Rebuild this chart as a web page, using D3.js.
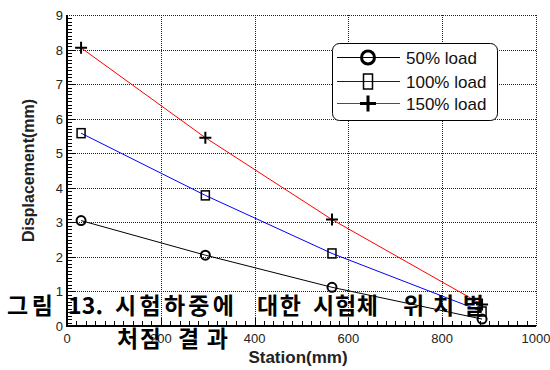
<!DOCTYPE html>
<html lang="ko">
<head>
    <meta charset="UTF-8" />
    <title>Station vs Displacement</title>
    <script src="https://d3js.org/d3.v7.min.js"></script>
    <style>
        body { margin: 0; background: #fff; }
        svg { display: block; font-family: "Liberation Sans", Arial, sans-serif; }
    </style>
</head>
<body>
    <script>
        // data
        var stations = [30, 295, 565, 885];
        var load50 = [3.05, 2.05, 1.12, 0.2];
        var load100 = [5.58, 3.78, 2.1, 0.42];
        var load150 = [8.05, 5.45, 3.08, 0.62];
        var seriesNames = ["50% load", "100% load", "150% load"];
        var xTicks = [0, 200, 400, 600, 800, 1000];
        var yTicks = [0, 1, 2, 3, 4, 5, 6, 7, 8, 9];
        var captionLine1 = ["그림", "13.", "시험하중에", "대한", "시험체", "위치별"];
        var captionLine2 = ["처짐", "결과"];

        var w = 550;
        var h = 370;
        var pLeft = 67, pTop = 15, pRight = 536, pBottom = 326;

        var svg = d3.select("body")
            .append("svg")
            .attr("width", w)
            .attr("height", h);

        var xScale = d3.scaleLinear().domain([0, 1000]).range([pLeft, pRight]);
        var yScale = d3.scaleLinear().domain([0, 9]).range([pBottom, pTop]);

        // dotted grid
        svg.append("g").selectAll("line")
            .data(xTicks.slice(1))
            .enter().append("line")
            .attr("x1", function(d) { return Math.round(xScale(d)) + 0.5; })
            .attr("x2", function(d) { return Math.round(xScale(d)) + 0.5; })
            .attr("y1", pTop).attr("y2", pBottom)
            .attr("stroke", "#222").attr("stroke-width", 1)
            .attr("stroke-dasharray", "1,1");

        svg.append("g").selectAll("line")
            .data(yTicks.slice(1))
            .enter().append("line")
            .attr("x1", pLeft).attr("x2", pRight)
            .attr("y1", function(d) { return Math.round(yScale(d)) + 0.5; })
            .attr("y2", function(d) { return Math.round(yScale(d)) + 0.5; })
            .attr("stroke", "#222").attr("stroke-width", 1)
            .attr("stroke-dasharray", "1,1");

        // minor ticks (inside)
        var yMinor = d3.range(0, 90).map(function(i) { return i / 10; });
        svg.append("g").selectAll("line")
            .data(yMinor)
            .enter().append("line")
            .attr("x1", pLeft)
            .attr("x2", function(d, i) { return pLeft + (i % 10 === 0 ? 8 : 5); })
            .attr("y1", function(d) { return Math.round(yScale(d)) + 0.5; })
            .attr("y2", function(d) { return Math.round(yScale(d)) + 0.5; })
            .attr("stroke", "#000");

        var xMinor = d3.range(0, 50).map(function(i) { return i * 20; });
        svg.append("g").selectAll("line")
            .data(xMinor)
            .enter().append("line")
            .attr("x1", function(d) { return Math.round(xScale(d)) + 0.5; })
            .attr("x2", function(d) { return Math.round(xScale(d)) + 0.5; })
            .attr("y1", pBottom)
            .attr("y2", function(d, i) { return pBottom - (i % 10 === 0 ? 8 : 5); })
            .attr("stroke", "#000");

        // axis lines
        svg.append("line").attr("x1", pLeft).attr("x2", pLeft).attr("y1", pTop).attr("y2", pBottom + 1)
            .attr("stroke", "#000").attr("stroke-width", 2);
        svg.append("line").attr("x1", pLeft - 1).attr("x2", pRight).attr("y1", pBottom).attr("y2", pBottom)
            .attr("stroke", "#000").attr("stroke-width", 2);

        // tick labels
        svg.append("g").selectAll("text")
            .data(yTicks)
            .enter().append("text")
            .attr("x", pLeft - 4)
            .attr("y", function(d) { return yScale(d) + 5; })
            .attr("text-anchor", "end")
            .attr("font-size", 13)
            .attr("fill", "#222")
            .text(function(d) { return d; });

        svg.append("g").selectAll("text")
            .data(xTicks)
            .enter().append("text")
            .attr("x", function(d) { return xScale(d); })
            .attr("y", pBottom + 17)
            .attr("text-anchor", "middle")
            .attr("font-size", 13)
            .attr("fill", "#222")
            .text(function(d) { return d; });

        // axis titles
        svg.append("text")
            .attr("x", 298)
            .attr("y", 363)
            .attr("text-anchor", "middle")
            .attr("font-size", 17)
            .attr("font-weight", "bold")
            .attr("fill", "#222")
            .text("Station(mm)");

        svg.append("text")
            .attr("transform", "translate(34," + ((pTop + pBottom) / 2) + ") rotate(-90)")
            .attr("text-anchor", "middle")
            .attr("font-size", 16)
            .attr("font-weight", "bold")
            .attr("fill", "#222")
            .text("Displacement(mm)");

        // series
        var series = [
            { name: seriesNames[0], values: load50, color: "#000000", marker: "circle" },
            { name: seriesNames[1], values: load100, color: "#0000ff", marker: "square" },
            { name: seriesNames[2], values: load150, color: "#ff0000", marker: "plus" }
        ];

        var line = d3.line()
            .x(function(d) { return xScale(d[0]); })
            .y(function(d) { return yScale(d[1]); });

        function drawMarker(g, type, x, y, big) {
            if (type === "circle") {
                g.append("circle").attr("cx", x).attr("cy", y).attr("r", big ? 6.5 : 4.5)
                    .attr("fill", "none").attr("stroke", "#000").attr("stroke-width", big ? 3 : 2);
            } else if (type === "square") {
                var sw = big ? 9 : 8, sh = big ? 15 : 9;
                g.append("rect").attr("x", x - sw / 2).attr("y", y - sh / 2)
                    .attr("width", sw).attr("height", sh)
                    .attr("fill", "none").attr("stroke", "#000").attr("stroke-width", 1.5);
            } else {
                var s = big ? 8 : 6;
                g.append("path")
                    .attr("d", "M" + (x - s) + "," + y + "H" + (x + s) + "M" + x + "," + (y - s) + "V" + (y + s))
                    .attr("stroke", "#000").attr("stroke-width", big ? 3 : 2);
            }
        }

        series.forEach(function(s) {
            var pts = stations.map(function(st, i) { return [st, s.values[i]]; });
            svg.append("path")
                .datum(pts)
                .attr("d", line)
                .attr("fill", "none")
                .attr("stroke", s.color)
                .attr("stroke-width", 1);
        });

        series.forEach(function(s) {
            var g = svg.append("g");
            stations.forEach(function(st, i) {
                drawMarker(g, s.marker, xScale(st), yScale(s.values[i]), false);
            });
        });

        // legend
        var lg = svg.append("g");
        lg.append("rect")
            .attr("x", 332.5).attr("y", 43.5)
            .attr("width", 165).attr("height", 77)
            .attr("rx", 7)
            .attr("fill", "#fff").attr("stroke", "#000").attr("stroke-width", 1);
        var rowY = [57.5, 81.5, 103.5];
        series.forEach(function(s, i) {
            lg.append("line")
                .attr("x1", 337).attr("x2", 400)
                .attr("y1", rowY[i]).attr("y2", rowY[i])
                .attr("stroke", s.color).attr("stroke-width", 1);
            drawMarker(lg, s.marker, 368, rowY[i], true);
            lg.append("text")
                .attr("x", 406)
                .attr("y", rowY[i] + 6.5)
                .attr("font-size", 17)
                .attr("fill", "#111")
                .text(s.name);
        });

        // overlapping caption (word positions and widths follow the figure)
        var line1X = [7, 68, 115, 257, 313, 403];
        var line1W = [46, 35, 119, 44, 65, 81];
        var line2X = [117, 178];
        var line2W = [44, 50];
        var cap = svg.append("g")
            .attr("font-family", "'Noto Sans CJK KR', sans-serif")
            .attr("font-weight", "bold")
            .attr("font-size", 23)
            .attr("fill", "#000");
        cap.append("text")
            .attr("y", 314)
            .selectAll("tspan")
            .data(captionLine1)
            .enter().append("tspan")
            .attr("x", function(d, i) { return line1X[i]; })
            .attr("textLength", function(d, i) { return line1W[i]; })
            .attr("lengthAdjust", "spacing")
            .text(function(d) { return d; });
        cap.append("text")
            .attr("y", 347)
            .selectAll("tspan")
            .data(captionLine2)
            .enter().append("tspan")
            .attr("x", function(d, i) { return line2X[i]; })
            .attr("textLength", function(d, i) { return line2W[i]; })
            .attr("lengthAdjust", "spacing")
            .text(function(d) { return d; });
    </script>
</body>
</html>
